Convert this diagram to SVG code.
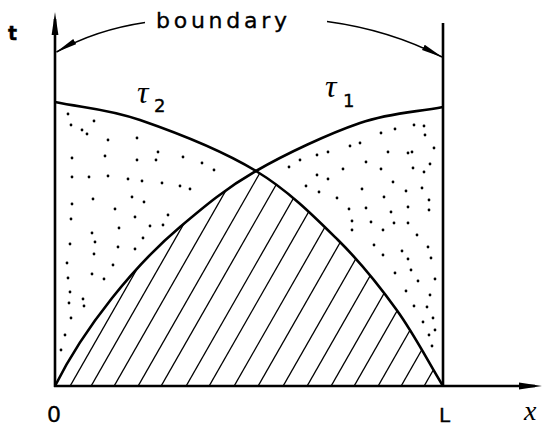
<svg xmlns="http://www.w3.org/2000/svg" width="543" height="428" viewBox="0 0 543 428">
<style>
.ax{fill:none;stroke:#000;stroke-width:2.6}
.cv{fill:none;stroke:#000;stroke-width:2.6}
.thin{fill:none;stroke:#000;stroke-width:1.5}
.hatch line{stroke:#000;stroke-width:1.3}
.dots circle{fill:#000}
.sans{font-family:"DejaVu Sans","Liberation Sans",sans-serif;fill:#000;stroke:#000;stroke-width:0.35}
.ital{font-family:"Liberation Serif","DejaVu Serif",serif;font-style:italic;fill:#000}
</style>
<defs>
<marker id="ahAxis" markerUnits="userSpaceOnUse" markerWidth="26" markerHeight="8" refX="16" refY="4" orient="auto">
<path d="M0,0.6 L23,4 L0,7.4 Z" fill="#000"/>
</marker>
<marker id="ah" markerUnits="userSpaceOnUse" markerWidth="24" markerHeight="8" refX="21" refY="3.5" orient="auto">
<path d="M0,0.5 L22,3.5 L0,6.5 Z" fill="#000"/>
</marker>
<clipPath id="hclip">
<path d="M55,386 C85,326 135,265 180,227 C206,205 226,188.3 256,171 C289,191 314.5,216.8 338,240 C361.5,263.2 379.2,285.7 396.7,310 C414.2,334.3 427.6,360.7 443,386 Z"/>
</clipPath>
</defs>

<g id="hatching" class="hatch" clip-path="url(#hclip)">
<line x1="69" y1="388" x2="269" y2="38"/>
<line x1="90" y1="388" x2="290" y2="38"/>
<line x1="113" y1="388" x2="313" y2="38"/>
<line x1="137" y1="388" x2="337" y2="38"/>
<line x1="160" y1="388" x2="360" y2="38"/>
<line x1="185" y1="388" x2="385" y2="38"/>
<line x1="208" y1="388" x2="408" y2="38"/>
<line x1="233" y1="388" x2="433" y2="38"/>
<line x1="257" y1="388" x2="457" y2="38"/>
<line x1="282" y1="388" x2="482" y2="38"/>
<line x1="306" y1="388" x2="506" y2="38"/>
<line x1="330" y1="388" x2="530" y2="38"/>
<line x1="353" y1="388" x2="553" y2="38"/>
<line x1="377" y1="388" x2="577" y2="38"/>
<line x1="400" y1="388" x2="600" y2="38"/>
<line x1="423" y1="388" x2="623" y2="38"/>
</g>

<g id="stipple" class="dots">
<circle cx="68" cy="114" r="1.4"/><circle cx="71" cy="125" r="1.4"/><circle cx="94" cy="121" r="1.4"/><circle cx="82" cy="130" r="1.4"/><circle cx="87" cy="134" r="1.4"/><circle cx="108" cy="140" r="1.4"/><circle cx="137" cy="138" r="1.4"/><circle cx="72" cy="158" r="1.4"/><circle cx="105" cy="156" r="1.4"/><circle cx="137" cy="160" r="1.4"/><circle cx="158" cy="152" r="1.4"/><circle cx="156" cy="160" r="1.4"/><circle cx="183" cy="157" r="1.4"/><circle cx="202" cy="163" r="1.4"/><circle cx="214" cy="170" r="1.4"/><circle cx="72" cy="177" r="1.4"/><circle cx="89" cy="177" r="1.4"/><circle cx="108" cy="176" r="1.4"/><circle cx="128" cy="179" r="1.4"/><circle cx="142" cy="181" r="1.4"/><circle cx="162" cy="183" r="1.4"/><circle cx="180" cy="186" r="1.4"/><circle cx="190" cy="189" r="1.4"/><circle cx="72" cy="204" r="1.4"/><circle cx="93" cy="199" r="1.4"/><circle cx="115" cy="209" r="1.4"/><circle cx="132" cy="197" r="1.4"/><circle cx="144" cy="202" r="1.4"/><circle cx="71" cy="219" r="1.4"/><circle cx="135" cy="217" r="1.4"/><circle cx="168" cy="215" r="1.4"/><circle cx="119" cy="228" r="1.4"/><circle cx="150" cy="226" r="1.4"/><circle cx="163" cy="225" r="1.4"/><circle cx="70" cy="244" r="1.4"/><circle cx="92" cy="233" r="1.4"/><circle cx="95" cy="242" r="1.4"/><circle cx="118" cy="247" r="1.4"/><circle cx="135" cy="249" r="1.4"/><circle cx="143" cy="238" r="1.4"/><circle cx="94" cy="254" r="1.4"/><circle cx="67" cy="263" r="1.4"/><circle cx="113" cy="265" r="1.4"/><circle cx="68" cy="278" r="1.4"/><circle cx="92" cy="274" r="1.4"/><circle cx="104" cy="279" r="1.4"/><circle cx="70" cy="292" r="1.4"/><circle cx="69" cy="303" r="1.4"/><circle cx="83" cy="299" r="1.4"/><circle cx="84" cy="306" r="1.4"/><circle cx="71" cy="318" r="1.4"/><circle cx="65" cy="335" r="1.4"/><circle cx="61" cy="350" r="1.4"/>
<circle cx="414" cy="125" r="1.4"/><circle cx="424" cy="126" r="1.4"/><circle cx="395" cy="129" r="1.4"/><circle cx="381" cy="133" r="1.4"/><circle cx="425" cy="135" r="1.4"/><circle cx="360" cy="143" r="1.4"/><circle cx="350" cy="146" r="1.4"/><circle cx="434" cy="148" r="1.4"/><circle cx="388" cy="152" r="1.4"/><circle cx="408" cy="153" r="1.4"/><circle cx="412" cy="152" r="1.4"/><circle cx="328" cy="152" r="1.4"/><circle cx="317" cy="155" r="1.4"/><circle cx="300" cy="160" r="1.4"/><circle cx="289" cy="167" r="1.4"/><circle cx="366" cy="162" r="1.4"/><circle cx="430" cy="164" r="1.4"/><circle cx="343" cy="169" r="1.4"/><circle cx="381" cy="169" r="1.4"/><circle cx="413" cy="168" r="1.4"/><circle cx="424" cy="172" r="1.4"/><circle cx="317" cy="175" r="1.4"/><circle cx="328" cy="179" r="1.4"/><circle cx="306" cy="186" r="1.4"/><circle cx="393" cy="182" r="1.4"/><circle cx="422" cy="188" r="1.4"/><circle cx="362" cy="189" r="1.4"/><circle cx="406" cy="191" r="1.4"/><circle cx="319" cy="192" r="1.4"/><circle cx="337" cy="198" r="1.4"/><circle cx="384" cy="197" r="1.4"/><circle cx="429" cy="200" r="1.4"/><circle cx="349" cy="209" r="1.4"/><circle cx="366" cy="208" r="1.4"/><circle cx="408" cy="207" r="1.4"/><circle cx="429" cy="210" r="1.4"/><circle cx="391" cy="212" r="1.4"/><circle cx="352" cy="221" r="1.4"/><circle cx="371" cy="222" r="1.4"/><circle cx="394" cy="223" r="1.4"/><circle cx="408" cy="223" r="1.4"/><circle cx="352" cy="230" r="1.4"/><circle cx="383" cy="230" r="1.4"/><circle cx="417" cy="235" r="1.4"/><circle cx="374" cy="245" r="1.4"/><circle cx="428" cy="247" r="1.4"/><circle cx="402" cy="251" r="1.4"/><circle cx="383" cy="255" r="1.4"/><circle cx="408" cy="259" r="1.4"/><circle cx="431" cy="258" r="1.4"/><circle cx="411" cy="270" r="1.4"/><circle cx="395" cy="273" r="1.4"/><circle cx="418" cy="281" r="1.4"/><circle cx="435" cy="279" r="1.4"/><circle cx="406" cy="291" r="1.4"/><circle cx="430" cy="295" r="1.4"/><circle cx="414" cy="306" r="1.4"/><circle cx="427" cy="307" r="1.4"/><circle cx="433" cy="318" r="1.4"/><circle cx="423" cy="322" r="1.4"/><circle cx="435" cy="330" r="1.4"/><circle cx="429" cy="335" r="1.4"/><circle cx="432" cy="346" r="1.4"/>
</g>

<g id="connectors">
<path id="t-axis" class="ax" d="M55,387 V19" marker-end="url(#ahAxis)"/>
<path id="x-axis" class="ax" d="M54,386 H535" marker-end="url(#ahAxis)"/>
<path id="right-boundary" class="ax" d="M443,23 V387"/>
<path id="tau2-curve" class="cv" d="M55,102 C84,108 106.7,108.5 140,120 C173.3,131.5 223,151 256,171 C289,191 314.5,216.8 338,240 C361.5,263.2 379.2,285.7 396.7,310 C414.2,334.3 427.6,360.7 443,386"/>
<path id="tau1-curve" class="cv" d="M55,386 C85,326 135,265 180,227 C206,205 226,188.3 256,171 C286,153.7 328.8,133.7 360,123 C391.2,112.3 415.3,112.3 443,107"/>
<path id="boundary-left" class="thin" d="M145,22.5 Q95,30 56.5,52" marker-end="url(#ah)"/>
<path id="boundary-right" class="thin" d="M327,21.5 Q390,30 442,57" marker-end="url(#ah)"/>
</g>

<g id="labels">
<text class="sans" x="8" y="40" font-size="19" font-weight="bold">t</text>
<text class="sans" x="156" y="28" font-size="22" textLength="131" lengthAdjust="spacing">boundary</text>
<text class="ital" x="137" y="103" font-size="32">τ</text>
<text class="sans" x="154" y="112" font-size="18">2</text>
<text class="ital" x="325" y="97" font-size="32">τ</text>
<text class="sans" x="343" y="107" font-size="18">1</text>
<text class="sans" x="47" y="422" font-size="22">0</text>
<text class="sans" x="439" y="422" font-size="20">L</text>
<text class="ital" x="524" y="420" font-size="28">x</text>
</g>
</svg>
